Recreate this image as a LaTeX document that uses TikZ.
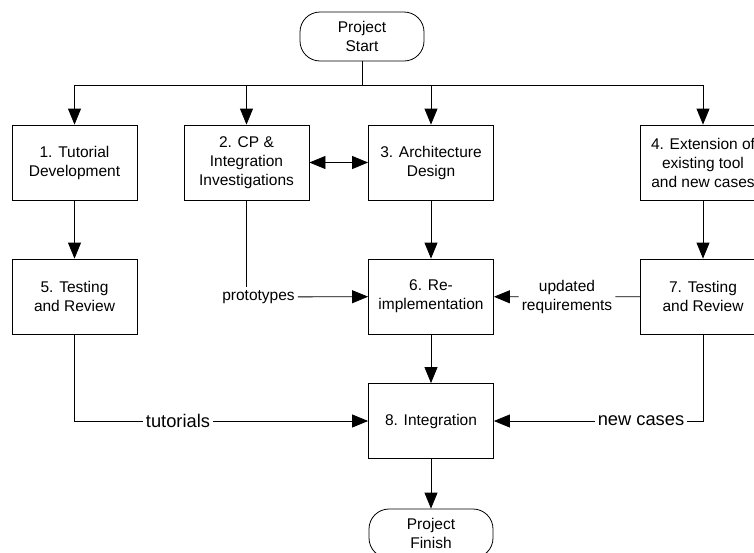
\documentclass[tikz,border=0pt]{standalone}
\usepackage{fontspec}
\setmainfont{Liberation Sans}
\usetikzlibrary{arrows.meta}

\begin{document}
\begin{tikzpicture}[x=1pt,y=-1pt,
  task/.style={draw, line width=0.8pt, fill=white, minimum width=125pt, minimum height=75pt, inner sep=0pt, align=center, font=\fontsize{15.5}{19}\selectfont},
  term/.style={draw, line width=0.8pt, rounded corners=20pt, minimum width=124pt, minimum height=49pt, inner sep=0pt, align=center, font=\fontsize{15.5}{19}\selectfont},
  lbl/.style={inner sep=3pt, align=center, font=\fontsize{15.5}{19}\selectfont},
  biglbl/.style={lbl, font=\fontsize{18.3}{22}\selectfont},
  flow/.style={line width=0.8pt},
  arr/.style={line width=0.8pt, -{Triangle[length=16pt,width=13pt]}}]

\useasboundingbox (0,0) rectangle (754,552);
\clip (0,0) rectangle (754,552);

\node [term] (start) at (362,36.5) {Project\\Start};
\coordinate (bus) at (362,85);
\node [task] (t1) at (74.5,162.5) {1. Tutorial\\Development};
\node [task] (t2) at (246.5,162.5) {2. CP \&\\Integration\\Investigations};
\node [task] (t3) at (431,162.5) {3. Architecture\\Design};
\node [task] (t4) at (703,162.5) {4. Extension of\\existing tool\\and new cases};
\node [task] (t5) at (74.5,296.5) {5. Testing\\and Review};
\node [task] (t6) at (431,296.5) {6. Re-\\implementation};
\node [task] (t7) at (703,296.5) {7. Testing\\and Review};
\node [task] (t8) at (431,421) {8. Integration};
\node [term] (finish) at (431,533.5) {Project\\Finish};

\node [lbl] (proto) at (258.5,297) {prototypes};
\node [lbl] (upd) at (567,297) {updated\\requirements};
\node [biglbl] (tut) at (178,421) {tutorials};
\node [biglbl] (nc) at (641,421) {new cases};

\draw [flow] (start) -- (bus);
\draw [arr] (bus) -| (t1.north);
\draw [arr] (bus) -| (t2.north);
\draw [arr] (bus) -| (t3.north);
\draw [arr] (bus) -| (t4.north);
\draw [flow, {Triangle[length=16pt,width=13pt]}-{Triangle[length=16pt,width=13pt]}] (t2) -- (t3);
\draw [arr] (t1) -- (t5);
\draw [arr] (t3) -- (t6);
\draw [arr] (t4) -- (t7);
\draw [arr] (t6) -- (t8);
\draw [arr] (t8) -- (finish);
\draw [flow] (t2) -- (t2 |- proto.north);
\draw [arr] (proto) -- (t6);
\draw [flow] (t7) -- (upd);
\draw [arr] (upd) -- (t6);
\draw [flow] (t5.south) |- (tut);
\draw [arr] (tut) -- (t8);
\draw [flow] (t7.south) |- (nc);
\draw [arr] (nc) -- (t8);
\end{tikzpicture}
\end{document}
